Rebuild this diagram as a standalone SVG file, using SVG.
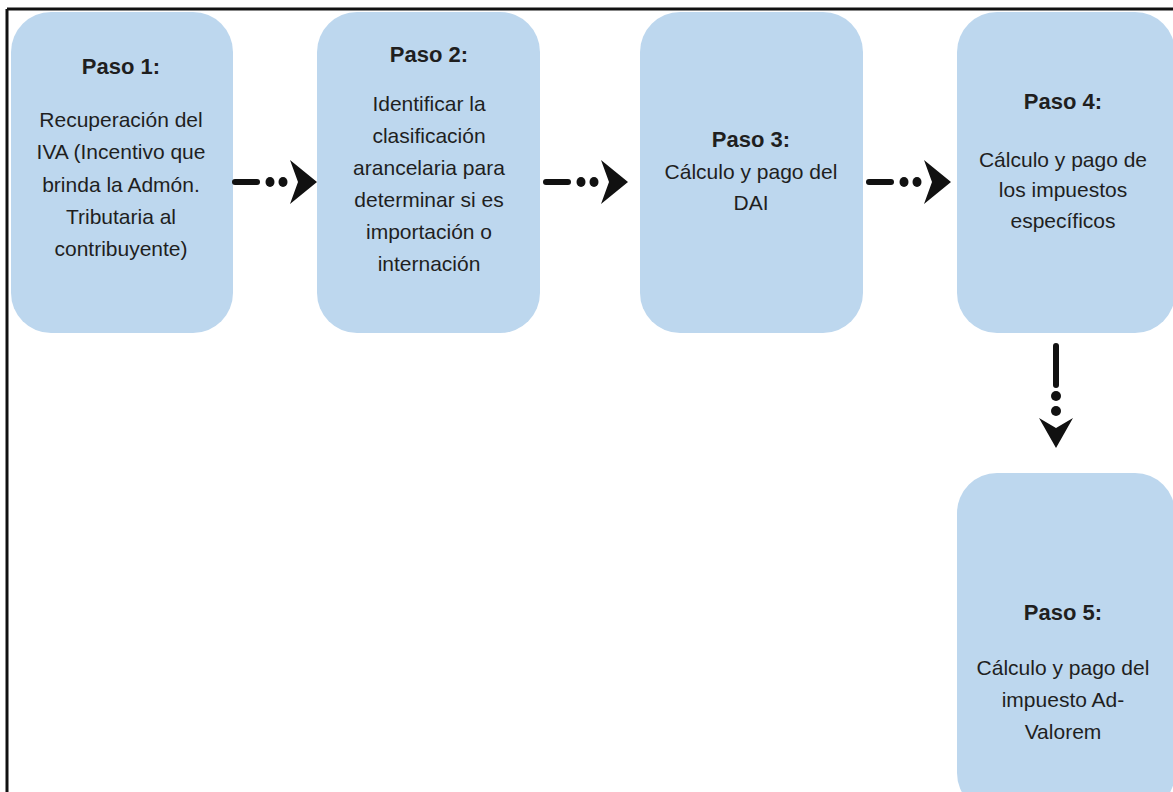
<svg xmlns="http://www.w3.org/2000/svg" width="1173" height="792" viewBox="0 0 1173 792">
<defs>
<style>
.box{fill:#bdd7ee;}
.t{font-family:"Liberation Sans",Arial,sans-serif;font-size:21px;fill:#1f1f1f;text-anchor:middle;}
.h{font-weight:bold;font-size:22px;}
.ar{fill:#111;}
</style>
<g id="arrowH">
<rect x="0" y="-3" width="28" height="6" rx="3" class="ar"/>
<ellipse cx="38" cy="0" rx="4.5" ry="5" class="ar"/>
<ellipse cx="51" cy="0" rx="4.5" ry="5" class="ar"/>
<polygon points="58,-22 85,0 58,22 66,0" class="ar"/>
</g>
</defs>
<rect width="1173" height="792" fill="#fff"/>
<g id="frame">
<line x1="7" y1="9" x2="1173" y2="9" stroke="#111" stroke-width="3"/>
<line x1="7" y1="9" x2="7" y2="792" stroke="#111" stroke-width="3"/>
</g>
<g id="node1">
<rect class="box" x="11" y="12" width="222" height="321" rx="40"/>
<text class="t h" x="121" y="74">Paso 1:</text>
<text class="t" x="121" y="127">Recuperación del</text>
<text class="t" x="121" y="159">IVA (Incentivo que</text>
<text class="t" x="121" y="192">brinda la Admón.</text>
<text class="t" x="121" y="224">Tributaria al</text>
<text class="t" x="121" y="256">contribuyente)</text>
</g>
<g id="node2">
<rect class="box" x="317" y="12" width="223" height="321" rx="40"/>
<text class="t h" x="429" y="62">Paso 2:</text>
<text class="t" x="429" y="111">Identificar la</text>
<text class="t" x="429" y="143">clasificación</text>
<text class="t" x="429" y="175">arancelaria para</text>
<text class="t" x="429" y="207">determinar si es</text>
<text class="t" x="429" y="239">importación o</text>
<text class="t" x="429" y="271">internación</text>
</g>
<g id="node3">
<rect class="box" x="640" y="12" width="223" height="321" rx="40"/>
<text class="t h" x="751" y="147">Paso 3:</text>
<text class="t" x="751" y="179">Cálculo y pago del</text>
<text class="t" x="751" y="210">DAI</text>
</g>
<g id="node4">
<rect class="box" x="957" y="12" width="218" height="321" rx="40"/>
<text class="t h" x="1063" y="109">Paso 4:</text>
<text class="t" x="1063" y="167">Cálculo y pago de</text>
<text class="t" x="1063" y="197">los impuestos</text>
<text class="t" x="1063" y="228">específicos</text>
</g>
<g id="node5">
<rect class="box" x="957" y="473" width="218" height="340" rx="40"/>
<text class="t h" x="1063" y="620">Paso 5:</text>
<text class="t" x="1063" y="675">Cálculo y pago del</text>
<text class="t" x="1063" y="707">impuesto Ad-</text>
<text class="t" x="1063" y="739">Valorem</text>
</g>
<g id="connectors">
<use href="#arrowH" x="232" y="182"/>
<use href="#arrowH" x="543" y="182"/>
<use href="#arrowH" x="866" y="182"/>
<g id="arrowV">
<rect x="1053" y="343" width="6" height="45" rx="3" class="ar"/>
<circle cx="1056" cy="396" r="5" class="ar"/>
<circle cx="1056" cy="411" r="5" class="ar"/>
<polygon points="1039,418 1056,428 1073,418 1056,448" class="ar"/>
</g>
</g>
</svg>
